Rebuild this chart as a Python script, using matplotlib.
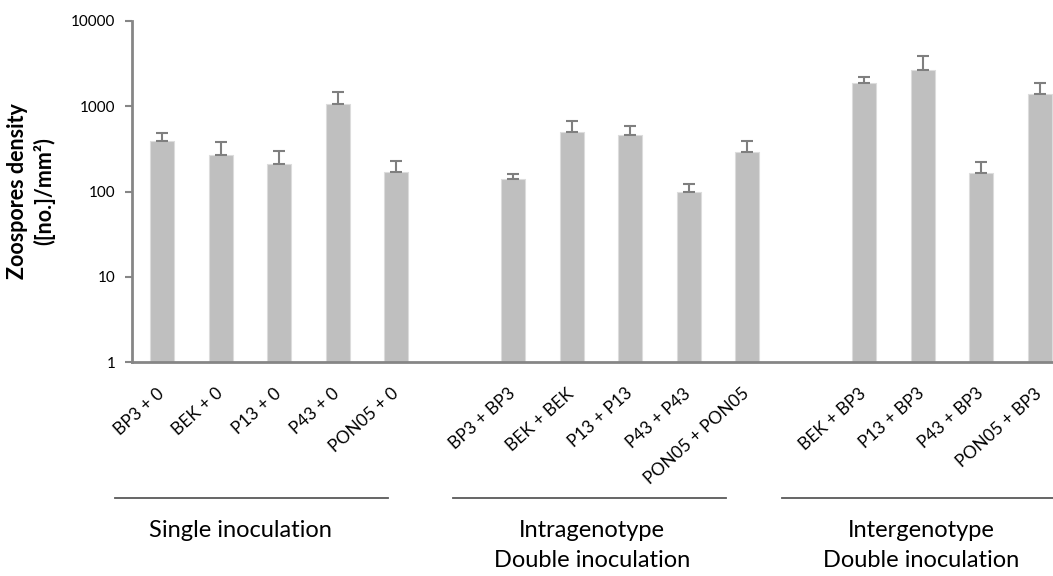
import matplotlib.pyplot as plt
from matplotlib.lines import Line2D

plt.rcParams['font.family'] = ['Lato', 'DejaVu Sans']

# Datos
group_names = ["Single inoculation",
               "Intragenotype\nDouble inoculation",
               "Intergenotype\nDouble inoculation"]
labels_single = ["BP3 + 0", "BEK + 0", "P13 + 0", "P43 + 0", "PON05 + 0"]
labels_intra = ["BP3 + BP3", "BEK + BEK", "P13 + P13", "P43 + P43", "PON05 + PON05"]
labels_inter = ["BEK + BP3", "P13 + BP3", "P43 + BP3", "PON05 + BP3"]

mean_single = [394, 268, 210, 1054, 171]
mean_intra = [140, 503, 456, 100, 293]
mean_inter = [1858, 2684, 165, 1380]

err_single = [88, 110, 91, 415, 59]
err_intra = [19, 174, 131, 21, 98]
err_inter = [345, 1199, 57, 478]

yticks = [1, 10, 100, 1000, 10000]
ytick_labels = ["1", "10", "100", "1000", "10000"]

# Posiciones: un hueco vacío entre grupos
groups = [(labels_single, mean_single, err_single),
          (labels_intra, mean_intra, err_intra),
          (labels_inter, mean_inter, err_inter)]
pos, labels, means, errs = [], [], [], []
x = 0
for lab, m, e in groups:
    for i in range(len(lab)):
        pos.append(x)
        x += 1
    labels += lab
    means += m
    errs += e
    x += 1

fig = plt.figure(figsize=(10.53, 5.76), dpi=100)
ax = fig.add_axes([132 / 1053, 1 - 362 / 576, 1 - 132 / 1053, (362 - 21) / 576])

ax.bar(pos, means, width=0.41, color='#BFBFBF', edgecolor='#DCDCDC', linewidth=0.8, zorder=2)
ax.errorbar(pos, means, yerr=[[0] * len(errs), errs], fmt='none', ecolor='#7F7F7F',
            elinewidth=1.5, capsize=4, capthick=1.5, zorder=3)

ax.set_yscale('log')
ax.set_ylim(1, 10000)
ax.set_xlim(-0.513, 15.23)
ax.set_yticks(yticks)
ax.set_yticklabels(ytick_labels)
ax.minorticks_off()
ax.tick_params(axis='y', length=5, width=1.5, color='#868686', labelsize=11, pad=7)
ax.tick_params(axis='x', length=0, pad=21)
ax.set_xticks(pos)
ax.set_xticklabels(labels, rotation=42, ha='right', va='center', rotation_mode='anchor',
                   fontsize=12.5)

for side in ['top', 'right']:
    ax.spines[side].set_visible(False)
for side in ['left', 'bottom']:
    ax.spines[side].set_color('#868686')
    ax.spines[side].set_linewidth(2)

ax.set_ylabel("Zoospores density\n([no.]/mm²)", fontsize=15.5, fontweight='bold',
              labelpad=11, linespacing=1.3)

# Líneas y nombres de grupo debajo de las etiquetas
line_y = 1 - 498 / 576
line_spans = [(115, 388), (453, 726), (782, 1053)]
text_x = [240, 592, 921]
for (x0, x1), name, tx in zip(line_spans, group_names, text_x):
    fig.add_artist(Line2D([x0 / 1053, x1 / 1053], [line_y, line_y],
                          color='#595959', lw=1.3))
    fig.text(tx / 1053, 1 - 520 / 576, name, ha='center', va='top', fontsize=17,
             linespacing=1.55)

fig.savefig("out.png", dpi=100)
